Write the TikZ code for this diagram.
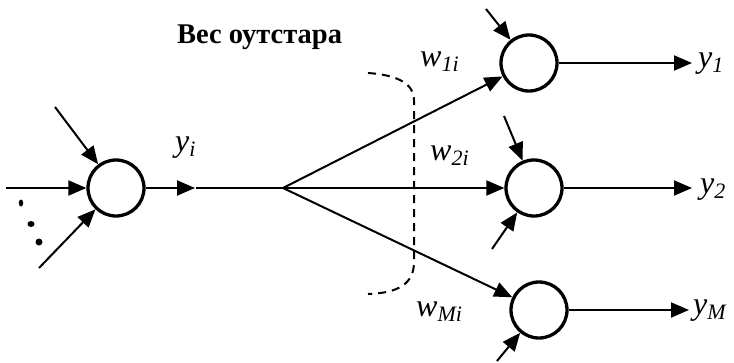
\documentclass[tikz,border=0pt]{standalone}
\usepackage{fontspec}
\setmainfont{Liberation Serif}
\usetikzlibrary{arrows.meta}
\newcommand\sublbl[2]{\textit{#1}\raisebox{-5pt}{\fontsize{22}{22}\selectfont\itshape #2}}
\tikzset{
  neuron/.style={circle, draw, line width=3.3pt, minimum size=56pt, inner sep=0pt},
  arr/.style={line width=2pt, -{Triangle[length=18pt,width=15pt]}},
  ln/.style={line width=2pt},
  lbl/.style={anchor=base west, inner sep=0pt, font=\fontsize{32}{32}\selectfont},
  ttl/.style={anchor=base west, inner sep=0pt, font=\fontsize{28.5}{28.5}\selectfont\bfseries}
}
\begin{document}
\begin{tikzpicture}[x=1pt,y=-1pt]
\useasboundingbox (0,0) rectangle (734,362);
% neurons
\node[neuron] (n0) at (116,188) {};
\node[neuron] (n1) at (529,63) {};
\node[neuron] (n2) at (534,188) {};
\node[neuron] (n3) at (539,310) {};
% input side of n0
\coordinate (a0) at (6,188);
\coordinate (a1) at (55,107);
\coordinate (a2) at (39,268);
\draw[arr] (a0) -- (n0);
\draw[arr] (a1) -- (n0);
\draw[arr] (a2) -- (n0);
\fill (21,203) ellipse (2.2pt and 3.5pt);
\fill (31,224) ellipse (3.5pt and 3pt);
\fill (39,242) ellipse (3.5pt and 3.5pt);
% output of n0 and fork
\coordinate (o0) at (195,188);
\coordinate (s0) at (196,188);
\coordinate (f) at (283,188);
\draw[arr] (n0) -- (o0);
\draw[ln] (s0) -- (f);
\draw[arr] (f) -- (n1);
\draw[arr] (f) -- (n2);
\draw[arr] (f) -- (n3);
% extra inputs
\coordinate (b1) at (486,9);
\coordinate (b2) at (504,116);
\coordinate (b3) at (492,249);
\coordinate (b4) at (497,361);
\draw[arr] (b1) -- (n1);
\draw[arr] (b2) -- (n2);
\draw[arr] (b3) -- (n2);
\draw[arr] (b4) -- (n3);
% outputs
\coordinate (y1) at (692,63);
\coordinate (y2) at (692,188);
\coordinate (yM) at (689,310);
\draw[arr] (n1) -- (y1);
\draw[arr] (n2) -- (y2);
\draw[arr] (n3) -- (yM);
% dashed bracket
\draw[ln, dash pattern=on 8pt off 6pt]
  (368,73) .. controls (398,75) and (414,84) .. (414,100) -- (414,262)
  .. controls (414,284) and (398,293) .. (368,294);
% labels
\node[ttl] (t) at (177,43) {Вес оутстара};
\node[lbl] (ly) at (175,151) {\sublbl{y}{i}};
\node[lbl] (lw1) at (420,66) {\sublbl{w}{1i}};
\node[lbl] (lw2) at (430,160) {\sublbl{w}{2i}};
\node[lbl] (lwM) at (416,316) {\sublbl{w}{Mi}};
\node[lbl] (ly1) at (698,67) {\sublbl{y}{1}};
\node[lbl] (ly2) at (700,193) {\sublbl{y}{2}};
\node[lbl] (lyM) at (693,314) {\sublbl{y}{M}};
\end{tikzpicture}
\end{document}
